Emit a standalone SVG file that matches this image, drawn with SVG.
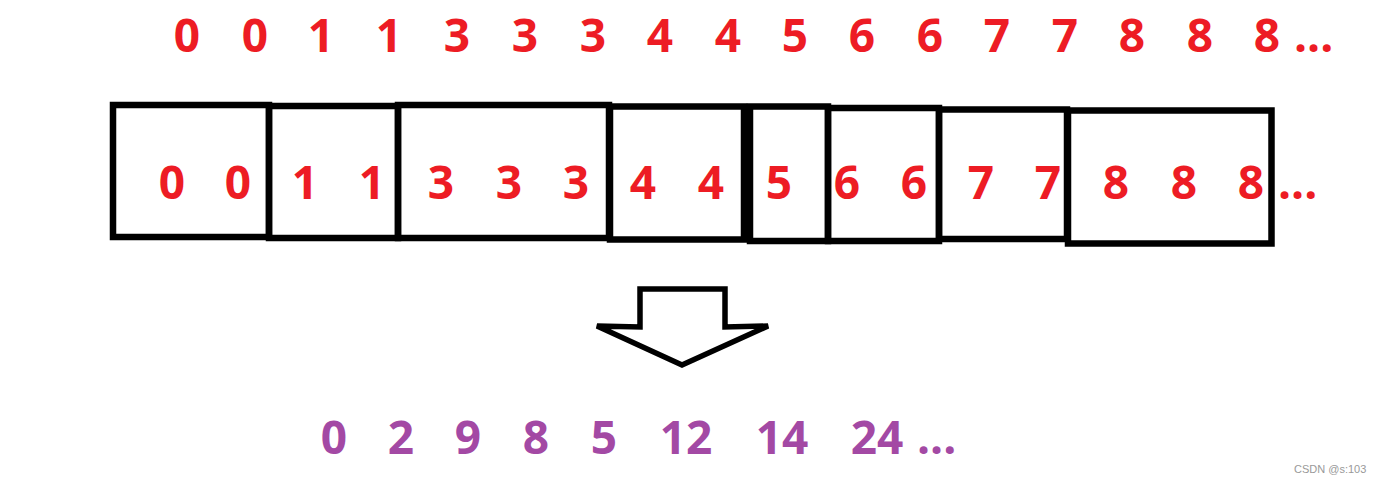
<svg xmlns="http://www.w3.org/2000/svg" width="1380" height="483" viewBox="0 0 1380 483">
<style>
.bx{fill:none;stroke:#000;stroke-width:6.5}
.r{fill:#ED1C24;font-family:"Open Sans","Noto Sans",sans-serif;font-weight:bold;font-size:46px;text-anchor:middle}
.p{fill:#A349A4;font-family:"Open Sans","Noto Sans",sans-serif;font-weight:bold;font-size:46px;text-anchor:middle}
.d{text-anchor:start}
.wm{fill:#999;font-family:"Liberation Sans",sans-serif;font-size:11px}
</style>
<rect width="1380" height="483" fill="#fff"/>
<g id="top-row">
<text class="r" x="187" y="52">0</text>
<text class="r" x="255" y="52">0</text>
<text class="r" x="321" y="52">1</text>
<text class="r" x="389" y="52">1</text>
<text class="r" x="457" y="52">3</text>
<text class="r" x="525" y="52">3</text>
<text class="r" x="593" y="52">3</text>
<text class="r" x="660" y="52">4</text>
<text class="r" x="728" y="52">4</text>
<text class="r" x="795" y="52">5</text>
<text class="r" x="862" y="52">6</text>
<text class="r" x="930" y="52">6</text>
<text class="r" x="997" y="52">7</text>
<text class="r" x="1065" y="52">7</text>
<text class="r" x="1132" y="52">8</text>
<text class="r" x="1200" y="52">8</text>
<text class="r" x="1267" y="52">8</text>
<text class="r d" x="1294" y="52">...</text>
</g>
<g id="box1"><rect class="bx" x="113" y="105" width="156" height="132"/>
<text class="r" x="172" y="199">0</text><text class="r" x="238" y="199">0</text></g>
<g id="box2"><rect class="bx" x="269" y="106" width="129" height="132"/>
<text class="r" x="305" y="199">1</text><text class="r" x="372" y="199">1</text></g>
<g id="box3"><rect class="bx" x="398" y="105" width="211" height="133"/>
<text class="r" x="441" y="199">3</text><text class="r" x="509" y="199">3</text><text class="r" x="576" y="199">3</text></g>
<g id="box4"><rect class="bx" x="610" y="106.5" width="134" height="133"/>
<text class="r" x="643" y="199">4</text><text class="r" x="711" y="199">4</text></g>
<g id="box5"><rect class="bx" x="750" y="106.5" width="78" height="134.5"/>
<text class="r" x="779" y="199">5</text></g>
<g id="box6"><rect class="bx" x="828" y="108" width="111" height="133"/>
<text class="r" x="847" y="199">6</text><text class="r" x="914" y="199">6</text></g>
<g id="box7"><rect class="bx" x="939" y="109.5" width="128" height="129.5"/>
<text class="r" x="981" y="199">7</text><text class="r" x="1048" y="199">7</text></g>
<g id="box8"><rect class="bx" x="1068" y="110.5" width="203.5" height="133"/>
<text class="r" x="1116" y="199">8</text><text class="r" x="1184" y="199">8</text><text class="r" x="1251" y="199">8</text></g>
<text class="r d" x="1278" y="199">...</text>
<g id="connectors">
<path d="M640,289 L725,289 L725,327 L768,326 L682,365 L597,326 L640,327 Z" fill="none" stroke="#000" stroke-width="5.5" stroke-linejoin="miter"/>
</g>
<g id="result-row">
<text class="p" x="334" y="454">0</text>
<text class="p" x="401" y="454">2</text>
<text class="p" x="468" y="454">9</text>
<text class="p" x="536" y="454">8</text>
<text class="p" x="604" y="454">5</text>
<text class="p" x="686" y="454">12</text>
<text class="p" x="782" y="454">14</text>
<text class="p" x="877" y="454">24</text>
<text class="p d" x="917" y="454">...</text>
</g>
<text class="wm" x="1294" y="473">CSDN @s:103</text>
</svg>
